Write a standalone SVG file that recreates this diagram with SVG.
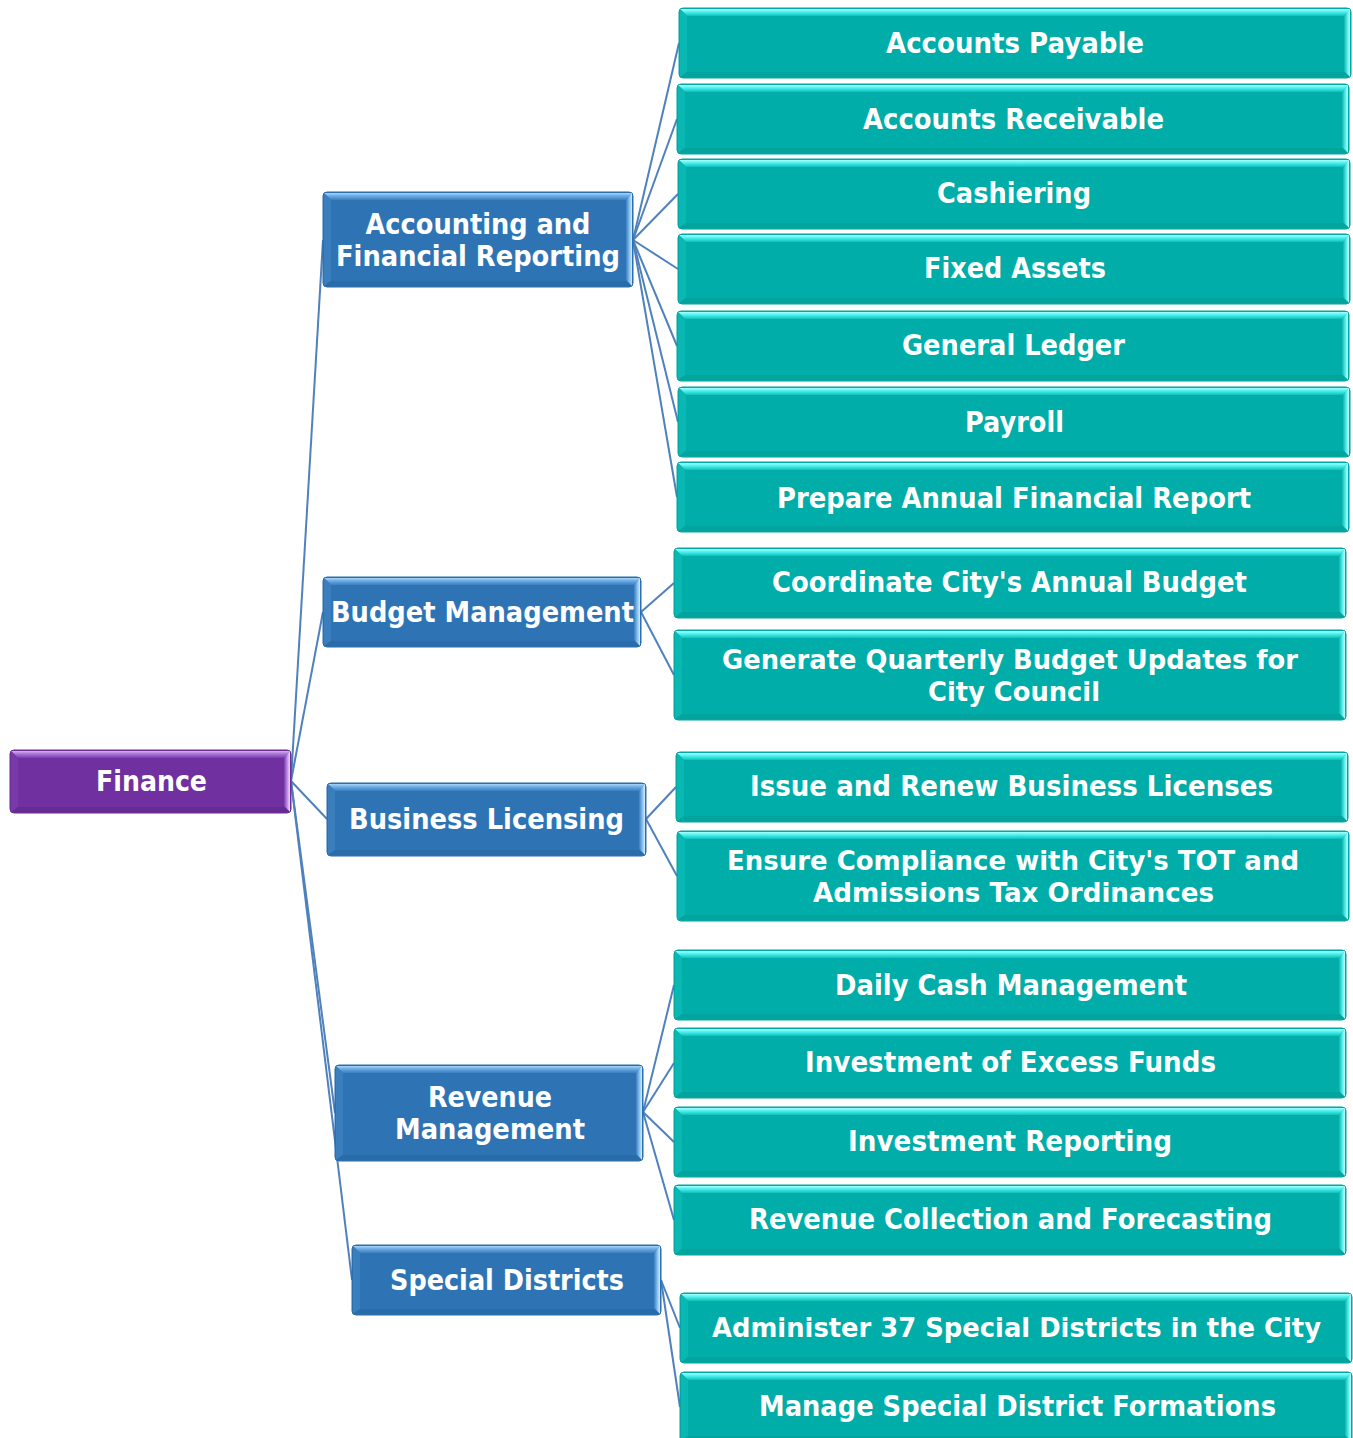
<svg xmlns="http://www.w3.org/2000/svg" xmlns:xlink="http://www.w3.org/1999/xlink" width="1353" height="1438" viewBox="0 0 1353 1438">
<style>
.conn line{stroke:#4F81BD;stroke-width:2;fill:none}
.lbl{fill:#fff;font-family:"DejaVu Sans","Verdana",sans-serif;font-weight:bold;font-size:29px;text-anchor:middle}
.tl{fill:#fff;font-family:"DejaVu Sans","Verdana",sans-serif;font-weight:bold;font-size:29px;text-anchor:middle}
.tl.long{font-size:27px}
.t-base{fill:#00ADA8;stroke:#07A29D;stroke-width:1}
.t-top{fill:url(#tTop)}
.t-right{fill:url(#tRight)}
.t-left{fill:#0AB8B3}
.t-bot{fill:#03A39E}
.b-base{fill:#2E74B5;stroke:#2A6AA6;stroke-width:1}
.b-top{fill:url(#bTop)}
.b-right{fill:url(#bRight)}
.b-left{fill:#3A7EBE}
.b-bot{fill:#2A6BAA}
.p-base{fill:#7030A0;stroke:#672C93;stroke-width:1}
.p-top{fill:url(#pTop)}
.p-right{fill:url(#pRight)}
.p-left{fill:#7939AA}
.p-bot{fill:#662C92}
</style>
<defs>
<linearGradient id="tTop" x1="0" y1="0" x2="0" y2="1"><stop offset="0" stop-color="#A8FFFD"/><stop offset="0.45" stop-color="#46EFEB"/><stop offset="1" stop-color="#12BEB9"/></linearGradient>
<linearGradient id="tRight" x1="0" y1="0" x2="1" y2="0"><stop offset="0" stop-color="#0DB5B0"/><stop offset="0.6" stop-color="#5FF0EC"/><stop offset="1" stop-color="#C8FFFF"/></linearGradient>
<linearGradient id="bTop" x1="0" y1="0" x2="0" y2="1"><stop offset="0" stop-color="#A6D4F8"/><stop offset="0.45" stop-color="#68A8E2"/><stop offset="1" stop-color="#3A7FC0"/></linearGradient>
<linearGradient id="bRight" x1="0" y1="0" x2="1" y2="0"><stop offset="0" stop-color="#3A7FC0"/><stop offset="0.6" stop-color="#8CC4F2"/><stop offset="1" stop-color="#D6EEFF"/></linearGradient>
<linearGradient id="pTop" x1="0" y1="0" x2="0" y2="1"><stop offset="0" stop-color="#D4AEF2"/><stop offset="0.45" stop-color="#A673D2"/><stop offset="1" stop-color="#7B3CAD"/></linearGradient>
<linearGradient id="pRight" x1="0" y1="0" x2="1" y2="0"><stop offset="0" stop-color="#7B3CAD"/><stop offset="0.6" stop-color="#C497EA"/><stop offset="1" stop-color="#EEDDFF"/></linearGradient>
<g id="teal">
<rect class="t-base" x="0" y="0" width="672" height="70" rx="4"/>
<polygon class="t-top" points="1,1 671,1 665,8 8,8"/>
<polygon class="t-right" points="671,1 671,69 665,63 665,8"/>
<polygon class="t-left" points="1,1 8,8 8,64 1,69"/>
<polygon class="t-bot" points="1,69 8,64 665,64 671,69"/>
</g>
<g id="teal2">
<rect class="t-base" x="0" y="0" width="672" height="90" rx="4"/>
<polygon class="t-top" points="1,1 671,1 665,8 8,8"/>
<polygon class="t-right" points="671,1 671,89 665,83 665,8"/>
<polygon class="t-left" points="1,1 8,8 8,84 1,89"/>
<polygon class="t-bot" points="1,89 8,84 665,84 671,89"/>
</g>
</defs>
<rect x="0" y="0" width="1353" height="1438" fill="#ffffff"/>

<g id="connectors" class="conn">
<line x1="291" y1="781" x2="323" y2="240"/>
<line x1="291" y1="781" x2="323" y2="612"/>
<line x1="291" y1="781" x2="327" y2="819"/>
<line x1="291" y1="781" x2="335" y2="1113"/>
<line x1="291" y1="781" x2="352" y2="1280"/>
<line x1="633" y1="240" x2="679" y2="43"/>
<line x1="633" y1="240" x2="677" y2="119"/>
<line x1="633" y1="240" x2="678" y2="194"/>
<line x1="633" y1="240" x2="678" y2="269"/>
<line x1="633" y1="240" x2="677" y2="346"/>
<line x1="633" y1="240" x2="678" y2="422"/>
<line x1="633" y1="240" x2="677" y2="497"/>
<line x1="641" y1="612" x2="674" y2="583"/>
<line x1="641" y1="612" x2="674" y2="675"/>
<line x1="646" y1="819" x2="676" y2="787"/>
<line x1="646" y1="819" x2="677" y2="876"/>
<line x1="643" y1="1112" x2="674" y2="985"/>
<line x1="643" y1="1112" x2="674" y2="1063"/>
<line x1="643" y1="1112" x2="674" y2="1142"/>
<line x1="643" y1="1112" x2="674" y2="1220"/>
<line x1="661" y1="1280" x2="680" y2="1328"/>
<line x1="661" y1="1280" x2="680" y2="1407"/>
</g>

<g id="node-finance" transform="translate(10,750)">
<rect class="p-base" x="0" y="0" width="281" height="63" rx="4"/>
<polygon class="p-top" points="1,1 280,1 274,8 8,8"/>
<polygon class="p-right" points="280,1 280,62 274,56 274,8"/>
<polygon class="p-left" points="1,1 8,8 8,57 1,62"/>
<polygon class="p-bot" points="1,62 8,57 274,57 280,62"/>
<text class="lbl" x="141.5" y="41" textLength="111" lengthAdjust="spacingAndGlyphs">Finance</text>
</g>

<g id="node-accounting" transform="translate(323,192)">
<rect class="b-base" x="0" y="0" width="310" height="95" rx="4"/>
<polygon class="b-top" points="1,1 309,1 303,8 8,8"/>
<polygon class="b-right" points="309,1 309,94 303,88 303,8"/>
<polygon class="b-left" points="1,1 8,8 8,89 1,94"/>
<polygon class="b-bot" points="1,94 8,89 303,89 309,94"/>
<text class="lbl" x="155" y="42" textLength="225" lengthAdjust="spacingAndGlyphs">Accounting and</text>
<text class="lbl" x="155" y="74" textLength="284" lengthAdjust="spacingAndGlyphs">Financial Reporting</text>
</g>

<g id="node-budget" transform="translate(323,577)">
<rect class="b-base" x="0" y="0" width="318" height="70" rx="4"/>
<polygon class="b-top" points="1,1 317,1 311,8 8,8"/>
<polygon class="b-right" points="317,1 317,69 311,63 311,8"/>
<polygon class="b-left" points="1,1 8,8 8,64 1,69"/>
<polygon class="b-bot" points="1,69 8,64 311,64 317,69"/>
<text class="lbl" x="159.5" y="45" textLength="303" lengthAdjust="spacingAndGlyphs">Budget Management</text>
</g>

<g id="node-business" transform="translate(327,783)">
<rect class="b-base" x="0" y="0" width="319" height="73" rx="4"/>
<polygon class="b-top" points="1,1 318,1 312,8 8,8"/>
<polygon class="b-right" points="318,1 318,72 312,66 312,8"/>
<polygon class="b-left" points="1,1 8,8 8,67 1,72"/>
<polygon class="b-bot" points="1,72 8,67 312,67 318,72"/>
<text class="lbl" x="159.5" y="46" textLength="275" lengthAdjust="spacingAndGlyphs">Business Licensing</text>
</g>

<g id="node-revenue" transform="translate(335,1065)">
<rect class="b-base" x="0" y="0" width="308" height="96" rx="4"/>
<polygon class="b-top" points="1,1 307,1 301,8 8,8"/>
<polygon class="b-right" points="307,1 307,95 301,89 301,8"/>
<polygon class="b-left" points="1,1 8,8 8,90 1,95"/>
<polygon class="b-bot" points="1,95 8,90 301,90 307,95"/>
<text class="lbl" x="155" y="42" textLength="124" lengthAdjust="spacingAndGlyphs">Revenue</text>
<text class="lbl" x="155" y="74" textLength="190" lengthAdjust="spacingAndGlyphs">Management</text>
</g>

<g id="node-special" transform="translate(352,1245)">
<rect class="b-base" x="0" y="0" width="309" height="70" rx="4"/>
<polygon class="b-top" points="1,1 308,1 302,8 8,8"/>
<polygon class="b-right" points="308,1 308,69 302,63 302,8"/>
<polygon class="b-left" points="1,1 8,8 8,64 1,69"/>
<polygon class="b-bot" points="1,69 8,64 302,64 308,69"/>
<text class="lbl" x="155" y="45" textLength="234" lengthAdjust="spacingAndGlyphs">Special Districts</text>
</g>

<g id="node-ap"><use href="#teal" x="679" y="8"/><text class="tl" x="1015" y="53" textLength="258" lengthAdjust="spacingAndGlyphs">Accounts Payable</text></g>
<g id="node-ar"><use href="#teal" x="677" y="84"/><text class="tl" x="1013.5" y="129" textLength="301" lengthAdjust="spacingAndGlyphs">Accounts Receivable</text></g>
<g id="node-cash"><use href="#teal" x="678" y="159"/><text class="tl" x="1014" y="203" textLength="154" lengthAdjust="spacingAndGlyphs">Cashiering</text></g>
<g id="node-fa"><use href="#teal" x="678" y="234"/><text class="tl" x="1015" y="278" textLength="182" lengthAdjust="spacingAndGlyphs">Fixed Assets</text></g>
<g id="node-gl"><use href="#teal" x="677" y="311"/><text class="tl" x="1013.5" y="355" textLength="223" lengthAdjust="spacingAndGlyphs">General Ledger</text></g>
<g id="node-payroll"><use href="#teal" x="678" y="387"/><text class="tl" x="1014.5" y="432" textLength="99" lengthAdjust="spacingAndGlyphs">Payroll</text></g>
<g id="node-afr"><use href="#teal" x="677" y="462"/><text class="tl" x="1014" y="508" textLength="474" lengthAdjust="spacingAndGlyphs">Prepare Annual Financial Report</text></g>
<g id="node-coord"><use href="#teal" x="674" y="548"/><text class="tl" x="1009.5" y="592" textLength="475" lengthAdjust="spacingAndGlyphs">Coordinate City's Annual Budget</text></g>
<g id="node-quarterly"><use href="#teal2" x="674" y="630"/><text class="tl long" x="1010" y="669" textLength="576" lengthAdjust="spacingAndGlyphs">Generate Quarterly Budget Updates for</text><text class="tl long" x="1014" y="701" textLength="172" lengthAdjust="spacingAndGlyphs">City Council</text></g>
<g id="node-issue"><use href="#teal" x="676" y="752"/><text class="tl" x="1011.5" y="796" textLength="523" lengthAdjust="spacingAndGlyphs">Issue and Renew Business Licenses</text></g>
<g id="node-ensure"><use href="#teal2" x="677" y="831"/><text class="tl long" x="1013" y="870" textLength="572" lengthAdjust="spacingAndGlyphs">Ensure Compliance with City's TOT and</text><text class="tl long" x="1013.5" y="902" textLength="401" lengthAdjust="spacingAndGlyphs">Admissions Tax Ordinances</text></g>
<g id="node-daily"><use href="#teal" x="674" y="950"/><text class="tl" x="1011" y="995" textLength="352" lengthAdjust="spacingAndGlyphs">Daily Cash Management</text></g>
<g id="node-invest"><use href="#teal" x="674" y="1028"/><text class="tl" x="1010.5" y="1072" textLength="411" lengthAdjust="spacingAndGlyphs">Investment of Excess Funds</text></g>
<g id="node-invrep"><use href="#teal" x="674" y="1107"/><text class="tl" x="1010" y="1151" textLength="324" lengthAdjust="spacingAndGlyphs">Investment Reporting</text></g>
<g id="node-revcol"><use href="#teal" x="674" y="1185"/><text class="tl" x="1010.5" y="1229" textLength="523" lengthAdjust="spacingAndGlyphs">Revenue Collection and Forecasting</text></g>
<g id="node-admin"><use href="#teal" x="680" y="1293"/><text class="tl long" x="1016.5" y="1337" textLength="609" lengthAdjust="spacingAndGlyphs">Administer 37 Special Districts in the City</text></g>
<g id="node-formations"><use href="#teal" x="680" y="1372"/><text class="tl" x="1017.5" y="1416" textLength="517" lengthAdjust="spacingAndGlyphs">Manage Special District Formations</text></g>
</svg>
